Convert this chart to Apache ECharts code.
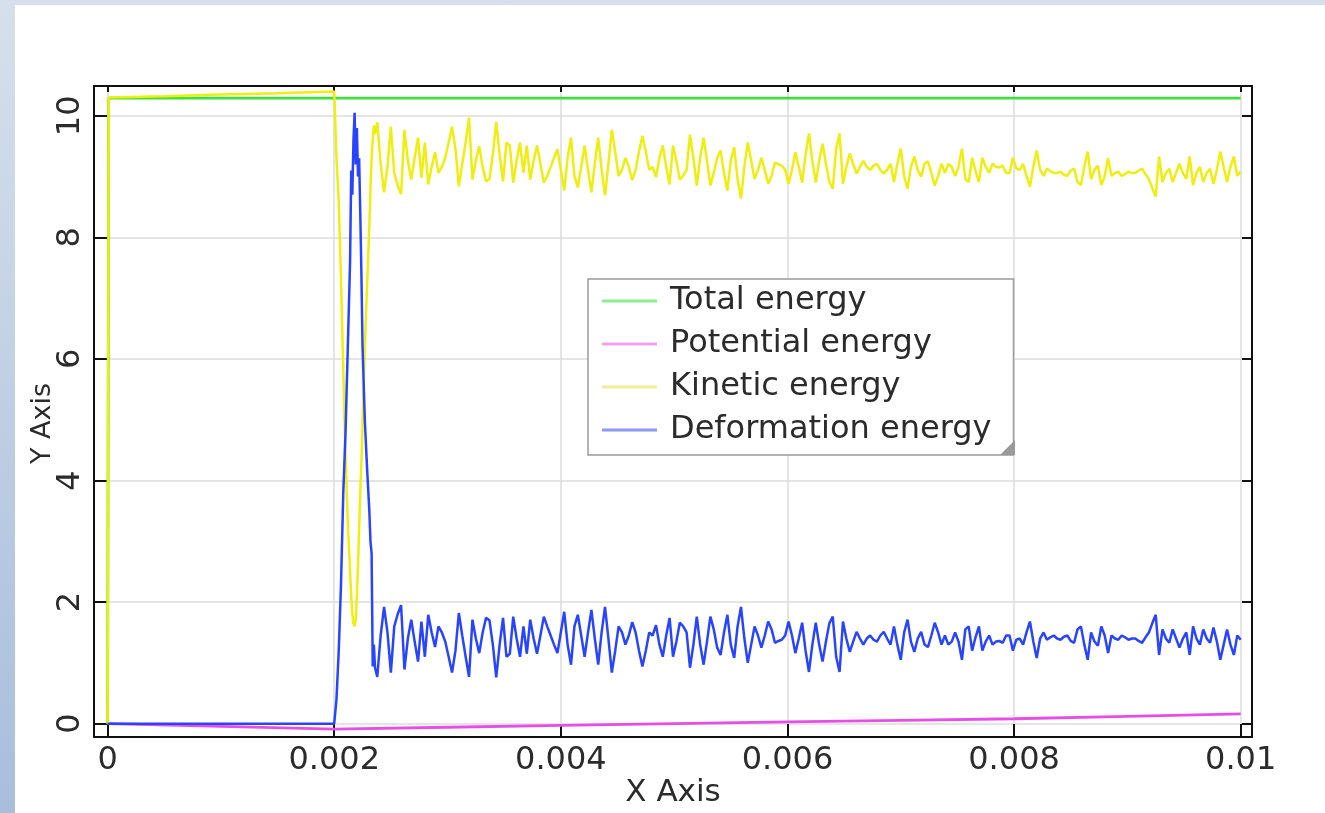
<!DOCTYPE html>
<html>
<head>
<meta charset="utf-8">
<title>Energy</title>
<script src="https://cdn.jsdelivr.net/npm/echarts@6.0.0/dist/echarts.min.js"></script>
<style>
  html, body {
    margin: 0;
    padding: 0;
  }
  body {
    width: 1325px;
    height: 813px;
    position: relative;
    overflow: hidden;
    background: linear-gradient(#d6e0ec, #a8bedb);
  }
  #frame {
    position: absolute;
    left: 15px;
    top: 5px;
    right: 0;
    bottom: 0;
    background: #fff;
  }
  #chart {
    position: absolute;
    left: 0;
    top: 0;
    width: 1325px;
    height: 813px;
  }
</style>
</head>
<body>
<div id="frame"></div>
<div id="chart"></div>
<script>
// ticks
const xTicks = [0, 0.002, 0.004, 0.006, 0.008, 0.01];
const yTicks = [0, 2, 4, 6, 8, 10];

// total energy
const totalT = [0, 0.00001, 0.01];
const totalE = [0, 10.29, 10.29];

// potential energy
const potT = [0, 0.001, 0.002, 0.003, 0.004, 0.005, 0.006, 0.007, 0.008, 0.009, 0.01];
const potE = [0, -0.045, -0.09, -0.06, -0.03, 0, 0.03, 0.055, 0.08, 0.12, 0.16];

// fall + impact part (irregular times)
const headT = [0, 0.00001, 0.0005, 0.001, 0.0015, 0.002, 0.00202, 0.00204, 0.00206, 0.00208,
  0.0021, 0.00212, 0.00214, 0.00215, 0.00216, 0.00217, 0.00218, 0.00219, 0.0022, 0.00221,
  0.00222, 0.00223, 0.00224, 0.00225, 0.00227, 0.00229, 0.00231, 0.00232, 0.00233, 0.00234,
  0.00235, 0.00236];
const headKin = [0, 10.3, 10.32, 10.35, 10.37, 10.4, 9.3, 8.6, 7.3, 5.8,
  4.4, 3.3, 2.5, 2.1, 1.8, 1.65, 1.6, 1.7, 2.1, 2.6,
  3.2, 3.8, 4.3, 4.9, 6.2, 7.2, 8.2, 8.8, 9.3, 9.6,
  9.84, 9.7];
const headDef = [0, 0, 0, 0, 0, 0, 0.4, 1.2, 2.3, 3.8,
  4.8, 6.2, 7.6, 9.1, 8.7, 9.6, 10.05, 9.2, 9.8, 9.0,
  9.3, 8.4, 7.4, 6.2, 5.0, 4.2, 3.5, 3.0, 2.8, 0.94,
  1.3, 0.92];

// oscillation part, sampled every 0.00003 from 0.00238
const tailStart = 0.00238;
const tailStep = 0.00003;
const tailDef = [
  0.77, 1.45, 1.92, 1.5, 0.84, 1.6, 1.8, 1.95, 0.89, 1.4,
  1.71, 1.35, 1.02, 1.68, 1.1, 1.79, 1.5, 1.26, 1.6, 1.5,
  1.35, 1.1, 0.84, 1.2, 1.82, 1.45, 1.1, 0.77, 1.71, 1.4,
  1.16, 1.5, 1.74, 1.7, 1.3, 0.76, 1.3, 1.74, 1.1, 1.15,
  1.76, 1.4, 1.1, 1.6, 1.15, 1.71, 1.4, 1.15, 1.45, 1.76,
  1.6, 1.45, 1.3, 1.16, 1.5, 1.84, 1.3, 0.97, 1.6, 1.79,
  1.45, 1.1, 1.5, 1.87, 1.4, 0.97, 1.5, 1.92, 1.4, 0.84,
  1.2, 1.6, 1.5, 1.3, 1.45, 1.67, 1.5, 1.2, 0.94, 1.2,
  1.5, 1.45, 1.62, 1.3, 1.1, 1.45, 1.74, 1.1, 1.35, 1.66,
  1.6, 1.5, 0.92, 1.3, 1.76, 1.3, 0.97, 1.35, 1.76, 1.55,
  1.25, 1.13, 1.5, 1.79, 1.3, 1.08, 1.6, 1.92, 1.4, 1.0,
  1.3, 1.6, 1.45, 1.25, 1.45, 1.68, 1.55, 1.33, 1.36, 1.38,
  1.45, 1.68, 1.45, 1.16, 1.4, 1.66, 1.2, 0.85, 1.3, 1.66,
  1.3, 1.02, 1.35, 1.65, 1.76, 1.1, 0.85, 1.68, 1.4, 1.18,
  1.35, 1.51, 1.4, 1.3, 1.4, 1.45, 1.38, 1.35, 1.45, 1.51,
  1.4, 1.3, 1.6, 1.3, 1.05, 1.5, 1.71, 1.35, 1.18, 1.4,
  1.51, 1.3, 1.26, 1.45, 1.66, 1.5, 1.3, 1.45, 1.3, 1.35,
  1.5, 1.35, 1.05, 1.55, 1.6, 1.2, 1.42, 1.6, 1.2, 1.35,
  1.45, 1.3, 1.35, 1.36, 1.33, 1.45, 1.45, 1.2, 1.38, 1.4,
  1.3, 1.5, 1.68, 1.35, 1.08, 1.4, 1.5, 1.38, 1.42, 1.45,
  1.4, 1.38, 1.43, 1.45, 1.36, 1.33, 1.55, 1.6, 1.3, 1.05,
  1.5, 1.35, 1.28, 1.6, 1.45, 1.16, 1.45, 1.4, 1.38, 1.45,
  1.42, 1.38, 1.4, 1.4, 1.36, 1.33, 1.42, 1.5, 1.65, 1.79,
  1.13, 1.55, 1.4, 1.33, 1.55, 1.4, 1.25, 1.4, 1.5, 1.13,
  1.6, 1.4, 1.3, 1.55, 1.4, 1.33, 1.58, 1.35, 1.05, 1.3,
  1.55, 1.3, 1.13, 1.45, 1.38
];
const tailKin = [
  9.89, 9.21, 8.74, 9.16, 9.82, 9.06, 8.86, 8.71, 9.77, 9.26,
  8.95, 9.31, 9.64, 8.98, 9.56, 8.87, 9.16, 9.4, 9.06, 9.16,
  9.31, 9.56, 9.82, 9.46, 8.84, 9.21, 9.56, 9.97, 8.95, 9.26,
  9.5, 9.16, 8.92, 8.96, 9.36, 9.9, 9.36, 8.92, 9.56, 9.51,
  8.9, 9.26, 9.56, 9.06, 9.51, 8.95, 9.26, 9.51, 9.21, 8.9,
  9.01, 9.16, 9.31, 9.45, 9.11, 8.77, 9.31, 9.64, 9.01, 8.82,
  9.16, 9.51, 9.11, 8.74, 9.21, 9.64, 9.11, 8.69, 9.21, 9.77,
  9.41, 9.01, 9.11, 9.31, 9.16, 8.94, 9.11, 9.41, 9.67, 9.41,
  9.11, 9.16, 8.99, 9.31, 9.51, 9.16, 8.87, 9.51, 9.26, 8.95,
  9.01, 9.11, 9.69, 9.31, 8.85, 9.31, 9.64, 9.26, 8.85, 9.06,
  9.31, 9.43, 9.06, 8.77, 9.26, 9.48, 8.96, 8.64, 9.16, 9.56,
  9.26, 8.96, 9.11, 9.31, 9.11, 8.88, 9.01, 9.23, 9.2, 9.18,
  9.11, 8.88, 9.11, 9.4, 9.16, 8.9, 9.36, 9.71, 9.26, 8.9,
  9.26, 9.54, 9.21, 8.91, 8.8, 9.46, 9.71, 8.88, 9.16, 9.38,
  9.21, 9.05, 9.16, 9.26, 9.16, 9.11, 9.18, 9.21, 9.11, 9.05,
  9.11, 9.21, 8.91, 9.21, 9.46, 9.01, 8.8, 9.16, 9.33, 9.11,
  9.0, 9.21, 9.25, 9.06, 8.85, 9.01, 9.21, 9.06, 9.21, 9.16,
  9.01, 9.16, 9.46, 8.96, 8.91, 9.31, 9.09, 8.91, 9.31, 9.16,
  9.06, 9.21, 9.16, 9.15, 9.18, 9.06, 9.06, 9.31, 9.13, 9.11,
  9.21, 9.01, 8.83, 9.16, 9.43, 9.11, 9.01, 9.13, 9.09, 9.06,
  9.06, 9.08, 9.03, 9.01, 9.1, 9.13, 8.91, 8.86, 9.16, 9.41,
  8.96, 9.11, 9.18, 8.86, 9.01, 9.3, 9.01, 9.06, 9.08, 9.01,
  9.04, 9.08, 9.06, 9.06, 9.1, 9.13, 9.04, 8.96, 8.81, 8.67,
  9.33, 8.91, 9.06, 9.13, 8.91, 9.06, 9.21, 9.06, 8.96, 9.33,
  8.86, 9.06, 9.16, 8.91, 9.06, 9.13, 8.88, 9.11, 9.41, 9.16,
  8.91, 9.16, 9.33, 9.01, 9.08
];

function pairs(ts, vs) {
  let out = [];
  for (let i = 0; i < vs.length; i++) {
    out.push([ts[i], vs[i]]);
  }
  return out;
}

let tailT = [];
for (let i = 0; i < tailDef.length; i++) {
  tailT.push(+(tailStart + i * tailStep).toFixed(5));
}

const font = "DejaVu Sans";
const textColor = "#2b2b2b";
const frameColor = "#111";

let myChart = echarts.init(document.getElementById("chart"));

let option = {
  animation: false,
  textStyle: { fontFamily: font },
  grid: {
    left: 94,
    top: 86,
    width: 1158,
    height: 651,
    containLabel: false
  },
  legend: {
    orient: "vertical",
    left: 588,
    top: 279,
    selectedMode: false,
    icon: "rect",
    itemWidth: 55,
    itemHeight: 3,
    itemGap: 9,
    padding: [5, 22, 8, 14],
    backgroundColor: "#fff",
    borderColor: "#9a9a9a",
    borderWidth: 1.5,
    textStyle: {
      fontFamily: font,
      fontSize: 32,
      lineHeight: 34,
      color: textColor,
      padding: [0, 0, 0, 8]
    },
    data: [
      { name: "Total energy", itemStyle: { color: "#8cee8c" } },
      { name: "Potential energy", itemStyle: { color: "#f2a0f2" } },
      { name: "Kinetic energy", itemStyle: { color: "#eeee99" } },
      { name: "Deformation energy", itemStyle: { color: "#8c9af2" } }
    ]
  },
  graphic: [
    {
      type: "polygon",
      z: 100,
      shape: { points: [[1015, 440], [1015, 455], [1000, 455]] },
      style: { fill: "#9a9a9a" }
    }
  ],
  xAxis: [
    {
      type: "value",
      min: -0.00012,
      max: 0.0101,
      position: "bottom",
      name: "X Axis",
      nameLocation: "middle",
      nameGap: 40,
      nameMoveOverlap: false,
      nameTextStyle: { fontFamily: font, fontSize: 31, color: textColor },
      axisLine: { show: true, onZero: false, lineStyle: { color: frameColor, width: 2 } },
      axisTick: {
        show: true,
        inside: true,
        length: 13,
        customValues: xTicks,
        lineStyle: { color: frameColor, width: 2 }
      },
      axisLabel: {
        customValues: xTicks,
        margin: 8,
        fontFamily: font,
        fontSize: 32,
        color: textColor,
        formatter: function(v) {
          return String(+v.toFixed(4));
        }
      },
      splitLine: { show: true, lineStyle: { color: "#dddddd", width: 1.5 } }
    },
    {
      type: "value",
      min: -0.00012,
      max: 0.0101,
      position: "top",
      axisLine: { show: true, onZero: false, lineStyle: { color: frameColor, width: 2 } },
      axisTick: {
        show: true,
        inside: true,
        length: 6,
        customValues: xTicks,
        lineStyle: { color: frameColor, width: 2 }
      },
      axisLabel: { show: false },
      splitLine: { show: false }
    }
  ],
  yAxis: [
    {
      type: "value",
      min: -0.22,
      max: 10.49,
      position: "left",
      name: "Y Axis",
      nameLocation: "middle",
      nameGap: 38,
      nameMoveOverlap: false,
      nameTextStyle: {
        fontFamily: font,
        fontSize: 27,
        color: textColor,
        padding: [0, 24, 0, 0]
      },
      axisLine: { show: true, onZero: false, lineStyle: { color: frameColor, width: 2 } },
      axisTick: {
        show: true,
        inside: true,
        length: 13,
        customValues: yTicks,
        lineStyle: { color: frameColor, width: 2 }
      },
      axisLabel: {
        customValues: yTicks,
        rotate: 90,
        margin: 7,
        fontFamily: font,
        fontSize: 32,
        color: textColor
      },
      splitLine: { show: true, lineStyle: { color: "#dddddd", width: 1.5 } }
    },
    {
      type: "value",
      min: -0.22,
      max: 10.49,
      position: "right",
      axisLine: { show: true, onZero: false, lineStyle: { color: frameColor, width: 2 } },
      axisTick: {
        show: true,
        inside: true,
        length: 10,
        customValues: yTicks,
        lineStyle: { color: frameColor, width: 2 }
      },
      axisLabel: { show: false },
      splitLine: { show: false }
    }
  ],
  series: [
    {
      name: "Total energy",
      type: "line",
      showSymbol: false,
      symbol: "none",
      lineStyle: { color: "#3ee03e", width: 2.8 },
      itemStyle: { color: "#3ee03e" },
      data: pairs(totalT, totalE)
    },
    {
      name: "Potential energy",
      type: "line",
      showSymbol: false,
      symbol: "none",
      lineStyle: { color: "#e64ee6", width: 2.8 },
      itemStyle: { color: "#e64ee6" },
      data: pairs(potT, potE)
    },
    {
      name: "Kinetic energy",
      type: "line",
      showSymbol: false,
      symbol: "none",
      lineStyle: { color: "#eeee10", width: 2.5 },
      itemStyle: { color: "#eeee10" },
      data: pairs(headT, headKin).concat(pairs(tailT, tailKin))
    },
    {
      name: "Deformation energy",
      type: "line",
      showSymbol: false,
      symbol: "none",
      lineStyle: { color: "#2844ff", width: 2.5 },
      itemStyle: { color: "#2844ff" },
      data: pairs(headT, headDef).concat(pairs(tailT, tailDef))
    }
  ]
};
myChart.setOption(option, true);
</script>
</body>
</html>
